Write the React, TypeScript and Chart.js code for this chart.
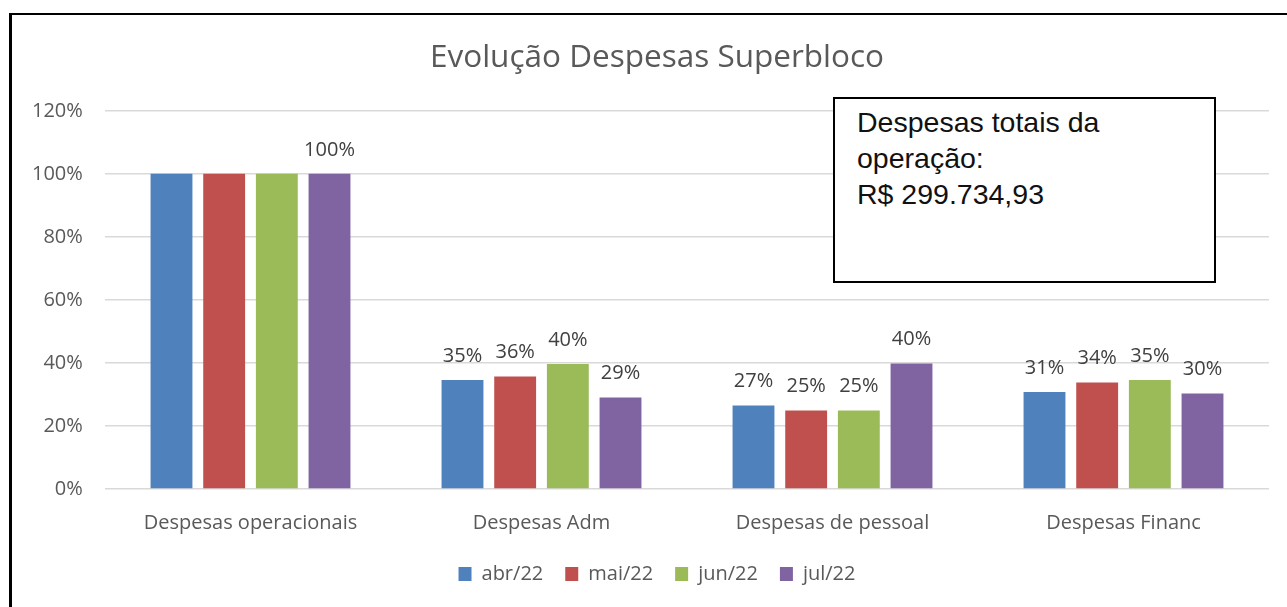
import React, { useEffect, useRef } from "react";
import { Chart, registerables } from "chart.js";

Chart.register(...registerables);

const categories = ["Despesas operacionais", "Despesas Adm", "Despesas de pessoal", "Despesas Financ"];
const seriesNames = ["abr/22", "mai/22", "jun/22", "jul/22"];
const abr22 = [100, 34.6, 26.5, 30.8];
const mai22 = [100, 35.7, 24.9, 33.8];
const jun22 = [100, 39.7, 24.9, 34.6];
const jul22 = [100, 29.0, 39.8, 30.3];
const seriesColors = ["#4F81BD", "#C0504D", "#9BBB59", "#8064A2"];
// data labels that Excel hid (datasetIndex, pointIndex)
const hiddenLabels = [[0, 0], [1, 0], [2, 0]];
const yTicks = [0, 20, 40, 60, 80, 100, 120];
const titleText = "Evolução Despesas Superbloco";
const noteLines = ["Despesas totais da", "operação:", "R$ 299.734,93"];

const dataLabelPlugin = {
  id: "dataLabels",
  afterDatasetsDraw(chart: any) {
    const ctx = chart.ctx;
    ctx.save();
    ctx.font = "20px 'Open Sans', sans-serif";
    ctx.fillStyle = "#404040";
    ctx.textAlign = "center";
    ctx.textBaseline = "middle";
    chart.data.datasets.forEach((ds: any, di: number) => {
      const meta = chart.getDatasetMeta(di);
      meta.data.forEach((bar: any, i: number) => {
        if (hiddenLabels.some(([d, p]) => d === di && p === i)) return;
        const v = ds.data[i];
        ctx.fillText(Math.round(v) + "%", bar.x, bar.y - 24);
      });
    });
    ctx.restore();
  },
};

export default function App() {
  const canvasRef = useRef<HTMLCanvasElement | null>(null);

  useEffect(() => {
    if (!canvasRef.current) return;
    Chart.defaults.font.family = "'Open Sans', sans-serif";
    const seriesData = [abr22, mai22, jun22, jul22];
    const chart = new Chart(canvasRef.current, {
      type: "bar",
      data: {
        labels: categories,
        datasets: seriesNames.map((name, i) => ({
          label: name,
          data: seriesData[i],
          backgroundColor: seriesColors[i],
          borderWidth: 0,
          categoryPercentage: 0.724,
          barPercentage: 0.795,
        })),
      },
      options: {
        responsive: false,
        animation: false,
        layout: { padding: { left: 45, right: 18, top: 0, bottom: 13 } },
        plugins: {
          title: {
            display: true,
            text: titleText,
            color: "#595959",
            font: { size: 31.5, weight: "normal" as any, lineHeight: 1.2 },
            padding: { top: 39, bottom: 34 },
          },
          legend: {
            display: true,
            position: "bottom",
            labels: {
              color: "#595959",
              font: { size: 20 },
              boxWidth: 13,
              boxHeight: 14,
              padding: 22,
            },
          },
          tooltip: { enabled: false },
        },
        scales: {
          x: {
            grid: { display: false },
            border: { display: false },
            ticks: { color: "#595959", font: { size: 20 }, padding: 14, maxRotation: 0, autoSkip: false },
            afterFit: (scale: any) => {
              scale.height = 53;
            },
          },
          y: {
            min: 0,
            max: 120,
            afterBuildTicks: (scale: any) => {
              scale.ticks = yTicks.map((v) => ({ value: v }));
            },
            grid: { color: "#d9d9d9", lineWidth: 1.5, drawTicks: false },
            border: { display: false },
            ticks: {
              color: "#595959",
              font: { size: 20 },
              mirror: true,
              crossAlign: "far",
              padding: -73,
              callback: (v: any) => v + "%",
            },
            afterFit: (scale: any) => {
              scale.width = 60;
            },
          },
        },
      },
      plugins: [dataLabelPlugin],
    });
    return () => chart.destroy();
  }, []);

  return (
    <div style={{ position: "fixed", left: 0, top: 0, width: 1287, height: 607, overflow: "hidden", background: "#fff" }}>
      <canvas ref={canvasRef} width={1287} height={607} style={{ position: "absolute", left: 0, top: 0 }} />
      <div
        style={{
          position: "absolute",
          left: 9,
          top: 13,
          width: 2000,
          height: 2000,
          borderLeft: "3px solid #000",
          borderTop: "2px solid #000",
          pointerEvents: "none",
        }}
      />
      <div
        style={{
          position: "absolute",
          left: 833,
          top: 97,
          width: 383,
          height: 186,
          boxSizing: "border-box",
          border: "2px solid #000",
          background: "#fff",
          padding: "5px 10px 0 22px",
          fontFamily: "'Liberation Sans', Arial, sans-serif",
          fontSize: 28.5,
          lineHeight: "36px",
          color: "#111",
          whiteSpace: "nowrap",
        }}
      >
        {noteLines.map((l, i) => (
          <div key={i}>{l}</div>
        ))}
      </div>
    </div>
  );
}
